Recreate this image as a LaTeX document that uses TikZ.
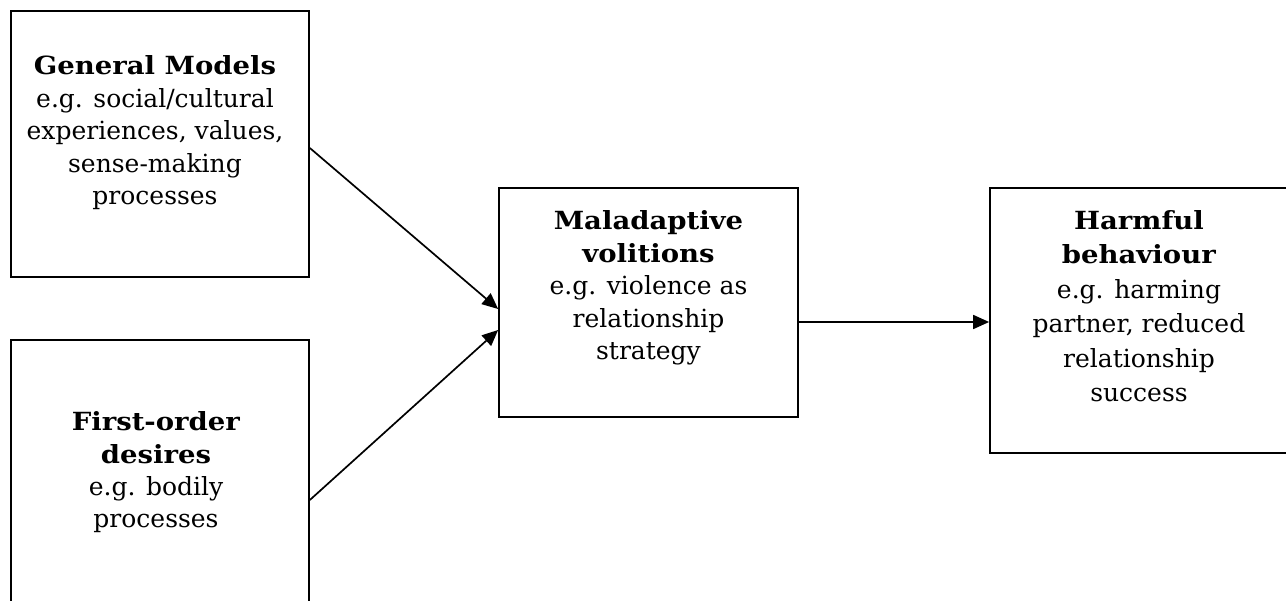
\documentclass[tikz,border=0pt]{standalone}
\usepackage{fontspec}
\setmainfont[BoldFeatures={FakeStretch=1.1}]{DejaVu Serif}
\usetikzlibrary{arrows.meta}
\begin{document}
\begin{tikzpicture}[x=1pt,y=-1pt,
  box/.style={draw=black,line width=1.7pt,inner sep=0pt,rectangle},
  txt/.style={align=center,inner sep=0pt,anchor=base},
  arr/.style={line width=1.7pt,-{Triangle[length=16pt,width=14pt]}}]
\useasboundingbox (0,0) rectangle (1286,601);
\clip (0,0) rectangle (1286,601);
\fill[white] (0,0) rectangle (1286,601);
% boxes
\node[box,minimum width=298pt,minimum height=266pt] (b1) at (160,144) {};
\node[box,minimum width=298pt,minimum height=300pt] (b2) at (160,490) {};
\node[box,minimum width=299pt,minimum height=229pt] (b3) at (648.5,302.5) {};
\node[box,minimum width=300pt,minimum height=265pt] (b4) at (1140,320.5) {};
% texts (anchored at the baseline of the last line)
\node[txt,font=\fontsize{25}{32.5}\selectfont] (t1) at (155,205) {\textbf{General Models}\\e.g. social/cultural\\experiences, values,\\sense-making\\processes};
\node[txt,font=\fontsize{25}{32.5}\selectfont] (t2) at (156,528) {\textbf{First-order}\\\textbf{desires}\\e.g. bodily\\processes};
\node[txt,font=\fontsize{25}{32.5}\selectfont] (t3) at (648.5,360) {\textbf{Maladaptive}\\\textbf{volitions}\\e.g. violence as\\relationship\\strategy};
\node[txt,font=\fontsize{25}{34.5}\selectfont] (t4) at (1139,402) {\textbf{Harmful}\\\textbf{behaviour}\\e.g. harming\\partner, reduced\\relationship\\success};
% connectors
\coordinate (a1s) at ([yshift=-4pt]b1.east);
\coordinate (a1e) at ([yshift=-6.5pt]b3.west);
\coordinate (a2s) at ([yshift=-10pt]b2.east);
\coordinate (a2e) at ([yshift=-27.5pt]b3.west);
\coordinate (a3s) at ([yshift=-19.5pt]b3.east);
\draw[arr] (a1s) -- (a1e);
\draw[arr] (a2s) -- (a2e);
\draw[arr] (a3s) -- (a3s -| b4.west);
\end{tikzpicture}
\end{document}
